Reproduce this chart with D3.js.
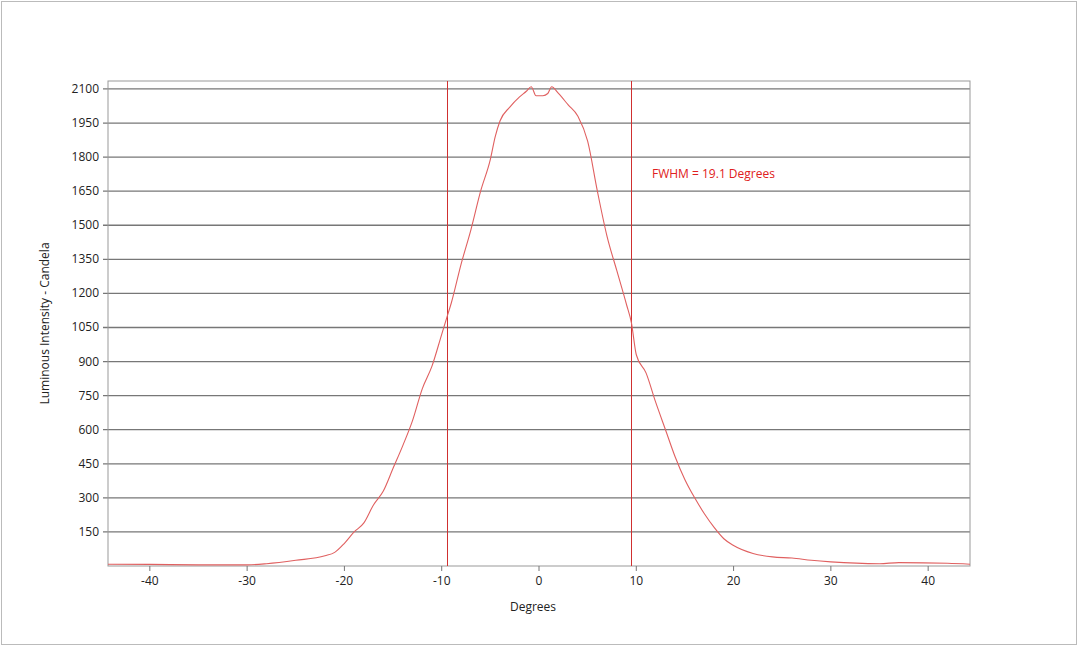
<!DOCTYPE html>
<html><head><meta charset="utf-8">
<script src="https://cdn.jsdelivr.net/npm/d3@7"></script>
<style>body{margin:0;background:#fff}svg{display:block}</style>
</head><body>
<svg width="1080" height="646"></svg>
<script>
var degrees = [-44.3,-40,-35,-30,-28,-25,-22,-21,-20,-19,-18,-17,-16,-15,-14,-13,-12,-11,-10,-9.5,-9,-8,-7,-6,-5,-4.5,-4,-3,-2,-1.3,-0.8,-0.3,0.4,0.9,1.3,2,3,4,5,6,7,8,9,9.5,10,11,12,13,14,15,16,17,18,19,20,22,24,26,28,30,35,37,42,44.3];
var candela = [8,7,5,5,10,25,45,60,100,150,190,270,330,430,530,640,780,880,1020,1090,1160,1330,1480,1650,1790,1890,1960,2020,2065,2090,2110,2070,2070,2080,2110,2080,2030,1980,1870,1650,1450,1300,1150,1070,930,850,720,600,480,380,300,230,170,120,90,55,40,35,25,18,10,15,12,8];
var xTicks = [-40,-30,-20,-10,0,10,20,30,40];
var yTicks = [150,300,450,600,750,900,1050,1200,1350,1500,1650,1800,1950,2100];
var fwhmLines = [-9.5,9.5];
var fwhmLabel = "FWHM = 19.1 Degrees";

var svg = d3.select('svg'), font = "'Open Sans', sans-serif";
svg.append('rect').attr('x',1.5).attr('y',1.5).attr('width',1075).attr('height',643)
  .attr('fill','none').attr('stroke','#bbb');
var L=108, R=970, T=81, B=566;
var x = d3.scaleLinear().domain([-44.3,44.3]).range([L,R]);
var y = d3.scaleLinear().domain([0,2135]).range([B,T]);

var g = svg.append('g');
g.selectAll('.grid').data(yTicks).enter().append('line')
  .attr('x1',L-5).attr('x2',R).attr('y1',d=>y(d)).attr('y2',d=>y(d))
  .attr('stroke','#777').attr('stroke-width',1.3);
g.append('rect').attr('x',L).attr('y',T).attr('width',R-L).attr('height',B-T)
  .attr('fill','none').attr('stroke','#999');
g.selectAll('.yl').data(yTicks).enter().append('text')
  .attr('x',L-9).attr('y',d=>y(d)+4).attr('text-anchor','end')
  .attr('font-family',font).attr('font-size',12).attr('fill','#222').text(d=>d);
g.selectAll('.xt').data(xTicks).enter().append('line')
  .attr('x1',d=>x(d)).attr('x2',d=>x(d)).attr('y1',B).attr('y2',B+5).attr('stroke','#777');
g.selectAll('.xl').data(xTicks).enter().append('text')
  .attr('x',d=>x(d)).attr('y',B+19).attr('text-anchor','middle')
  .attr('font-family',font).attr('font-size',12).attr('fill','#222').text(d=>d);
g.selectAll('.fw').data(fwhmLines).enter().append('line')
  .attr('x1',d=>Math.round(x(d))+0.5).attr('x2',d=>Math.round(x(d))+0.5).attr('y1',T).attr('y2',B)
  .attr('stroke','#d03030').attr('stroke-width',1);
g.append('path').datum(degrees.map((d,i)=>[d,candela[i]]))
  .attr('d',d3.line().x(d=>x(d[0])).y(d=>y(d[1])).curve(d3.curveMonotoneX))
  .attr('fill','none').attr('stroke','#e06060').attr('stroke-width',1.1);
g.append('text').attr('x',652).attr('y',178).attr('font-family',font).attr('font-size',12)
  .attr('fill','#e02020').text(fwhmLabel);
g.append('text').attr('x',(L+R)/2-6).attr('y',611).attr('text-anchor','middle')
  .attr('font-family',font).attr('font-size',12).attr('fill','#222').text('Degrees');
g.append('text').attr('transform','translate(49,'+((T+B)/2)+') rotate(-90)').attr('text-anchor','middle')
  .attr('font-family',font).attr('font-size',12).attr('fill','#222').text('Luminous Intensity - Candela');
</script>
</body></html>
